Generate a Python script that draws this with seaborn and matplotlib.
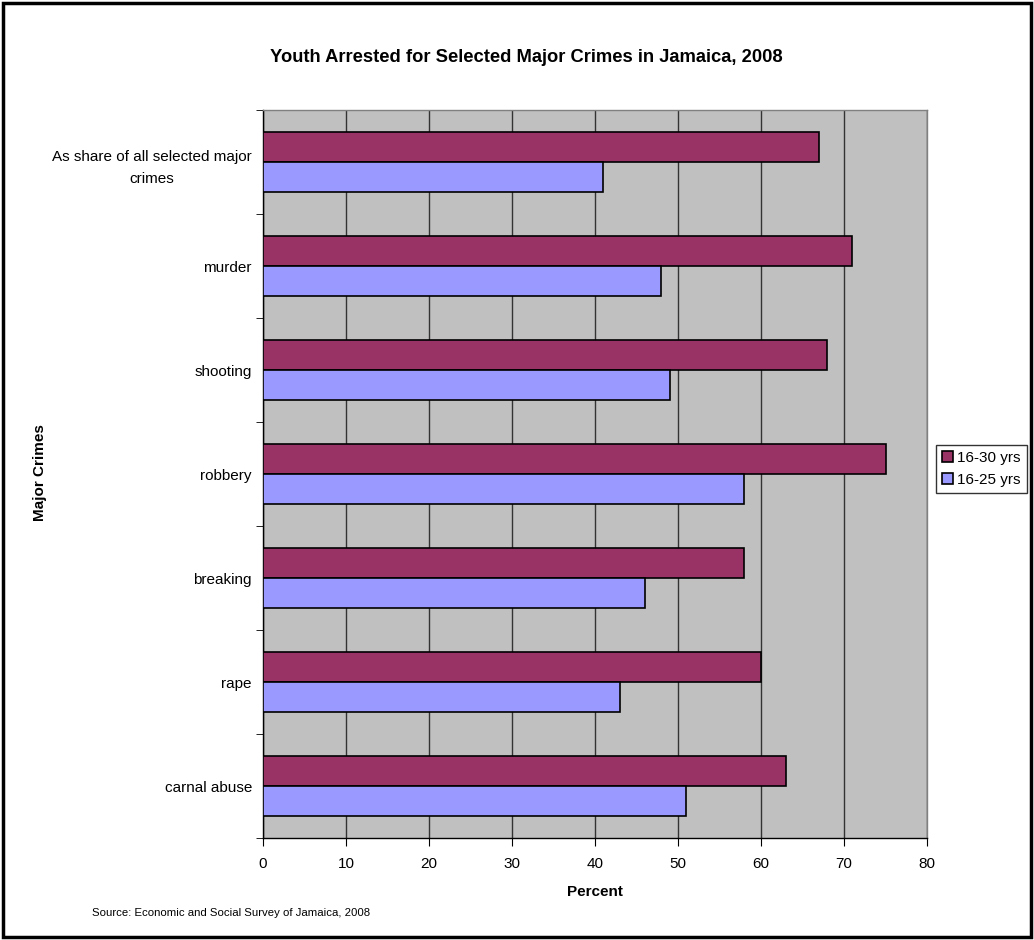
import pandas as pd
import matplotlib.pyplot as plt
import seaborn as sns
from matplotlib.patches import Rectangle
from matplotlib.ticker import FixedLocator

# data
crimes = ['As share of all selected major\ncrimes', 'murder', 'shooting', 'robbery',
          'breaking', 'rape', 'carnal abuse']
yrs_16_30 = [67, 71, 68, 75, 58, 60, 63]
yrs_16_25 = [41, 48, 49, 58, 46, 43, 51]
groups = ['16-30 yrs', '16-25 yrs']

df = pd.DataFrame({'Crime': crimes, '16-30 yrs': yrs_16_30, '16-25 yrs': yrs_16_25})
df_long = pd.melt(df, id_vars=['Crime'], value_vars=groups, var_name='Age', value_name='Percent')

sns.set_style('white')
plt.rcParams['font.family'] = ['Liberation Sans', 'DejaVu Sans']
plt.rcParams['text.color'] = 'black'
plt.rcParams['xtick.color'] = 'black'
plt.rcParams['ytick.color'] = 'black'
plt.rcParams['axes.labelcolor'] = 'black'

fig = plt.figure(figsize=(10.34, 9.4), dpi=100)
ax = fig.add_axes([263 / 1034, 1 - 838 / 940, 664 / 1034, 728 / 940])
ax.set_facecolor('#C0C0C0')

sns.barplot(data=df_long, y='Crime', x='Percent', hue='Age', hue_order=groups,
            order=crimes, orient='h', palette=['#993366', '#9999FF'], saturation=1,
            width=0.58, edgecolor='black', linewidth=1.2, ax=ax, zorder=3)

ax.set_xlim(0, 80)
ax.set_ylim(6.5, -0.5)
ax.set_xticks(range(0, 81, 10))
ax.grid(axis='x', color='#333333', linewidth=1, zorder=0)
ax.set_axisbelow(True)
for s in ax.spines.values():
    s.set_color('#808080')
    s.set_linewidth(1)
ax.spines['left'].set_color('black')
ax.spines['bottom'].set_color('black')

ax.tick_params(axis='x', which='major', length=6, color='black', labelsize=11, pad=8)
ax.tick_params(axis='y', which='major', length=0, labelsize=11, pad=8)
ax.yaxis.set_minor_locator(FixedLocator([i - 0.5 for i in range(8)]))
ax.tick_params(axis='y', which='minor', length=5, color='black', left=True)
ax.tick_params(axis='x', bottom=True)
for lab in ax.get_yticklabels():
    lab.set_multialignment('center')
    lab.set_linespacing(1.75)

ax.set_xlabel('Percent', fontsize=11, fontweight='bold', labelpad=10)
ax.set_ylabel('')
fig.text(40 / 1034, 1 - 473 / 940, 'Major Crimes', rotation=90, fontsize=11,
         fontweight='bold', ha='center', va='center')

fig.text(526 / 1034, 1 - 58 / 940,
         'Youth Arrested for Selected Major Crimes in Jamaica, 2008',
         fontsize=13.2, fontweight='bold', ha='center', va='center')
fig.text(92 / 1034, 1 - 913 / 940, 'Source: Economic and Social Survey of Jamaica, 2008',
         fontsize=8.2, ha='left', va='center')

leg = ax.legend(title=None, loc='center left', bbox_to_anchor=(936 / 1034, 1 - 469 / 940),
                bbox_transform=fig.transFigure, frameon=True, fancybox=False,
                fontsize=11, handlelength=0.7, handleheight=0.7, handletextpad=0.3,
                borderpad=0.4, labelspacing=0.5, borderaxespad=0)
leg.get_frame().set_edgecolor('black')
leg.get_frame().set_linewidth(1)

fig.patches.append(Rectangle((3 / 1034, 3 / 940), 1028 / 1034, 934 / 940, fill=False,
                             edgecolor='black', linewidth=2.5, transform=fig.transFigure,
                             figure=fig))

plt.savefig('out.png', dpi=100)
